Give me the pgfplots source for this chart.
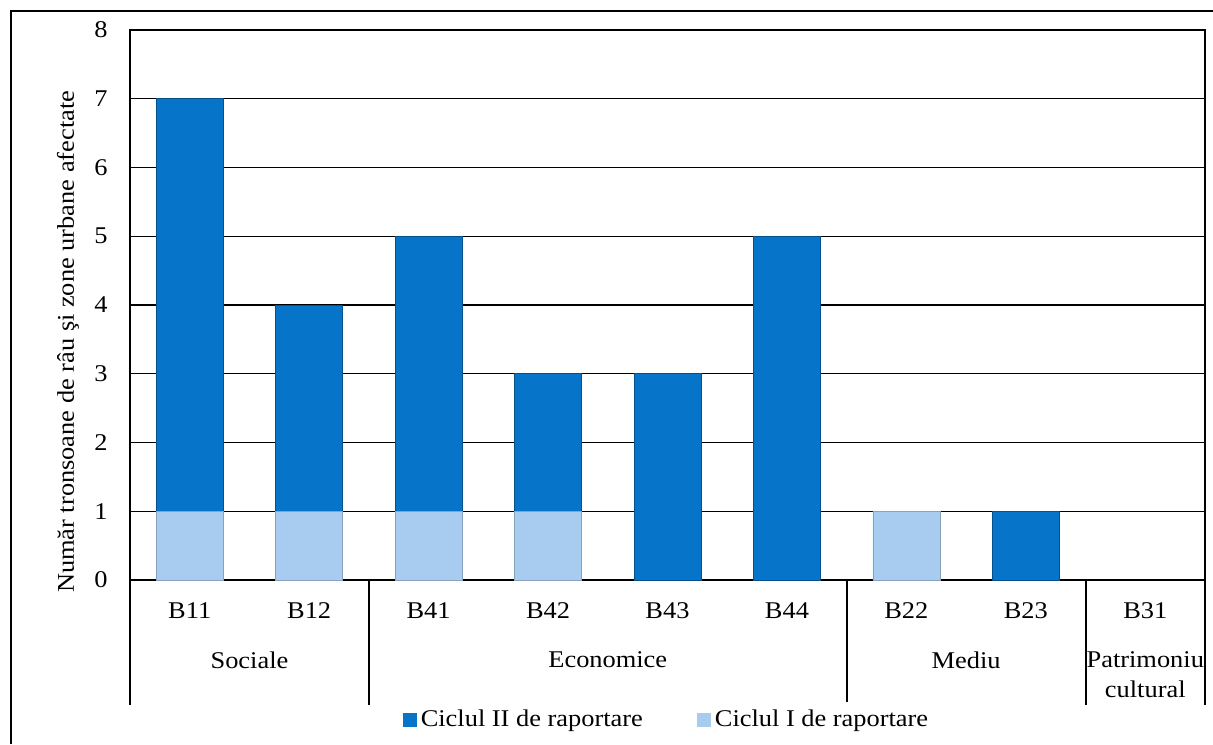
\documentclass[border=0pt]{standalone}
\usepackage{fontspec}
\setmainfont{Liberation Serif}[FakeStretch=1.1]
\usepackage{pgfplots}
\pgfplotsset{compat=1.18}

\definecolor{cycII}{HTML}{0674C8}
\definecolor{cycI}{HTML}{A7CCF0}

\begin{document}
\fontsize{12}{14}\selectfont
\begin{tikzpicture}
% page frame (1 px of the reference = 0.5pt)
\path[use as bounding box] (-65pt,-82pt) rectangle (541.5pt,290pt);
\draw[line width=1pt] (-59.5pt,-82pt) -- (-59.5pt,284.5pt) -- (541.5pt,284.5pt);

\begin{axis}[
    scale only axis,
    width=537.5pt,
    height=275pt,
    ybar stacked,
    bar width=33.5pt,
    xmin=-0.5, xmax=8.5,
    ymin=0, ymax=8,
    xtick={0,...,8},
    xticklabels={B11,B12,B41,B42,B43,B44,B22,B23,B31},
    ytick={0,...,8},
    ymajorgrids,
    grid style={black, line width=0.6pt},
    axis line style={black, line width=0.8pt},
    major tick length=0pt,
    xticklabel style={yshift=-7pt},
    yticklabel style={xshift=-7pt},
    /pgf/number format/assume math mode=true,
    ylabel={Număr tronsoane de râu şi zone urbane afectate},
    ylabel style={at={(rel axis cs:-0.0577,0.433)}, anchor=center},
    clip=false,
    reverse legend,
    legend columns=2,
    legend style={
        at={(0.5,-0.2545)},
        anchor=center,
        draw=none,
        font=\fontsize{12}{14}\selectfont,
        /tikz/every even column/.style={column sep=25pt},
    },
    legend image code/.code={\draw[#1, draw=none] (0pt,-3.5pt) rectangle (7pt,3.5pt);},
]
    \addplot[fill=cycI, draw=cycI!80!black, line width=0.3pt]
    coordinates{(0,1)(1,1)(2,1)(3,1)(4,0)(5,0)(6,1)(7,0)(8,0)};
    \addlegendentry{Ciclul I de raportare}

    \addplot[fill=cycII, draw=cycII!70!black, line width=0.3pt]
    coordinates{(0,6)(1,3)(2,4)(3,2)(4,3)(5,5)(6,0)(7,1)(8,0)};
    \addlegendentry{Ciclul II de raportare}

    % group separators below the axis
    \pgfplotsinvokeforeach{-0.5,1.5,5.5,7.5,8.5}{
        \draw[line width=1pt] (axis cs:#1,0) -- ++(0pt,-62.5pt);
    }

    \node at ([yshift=-40pt]axis cs:0.5,0) {Sociale};
    \node at ([yshift=-40pt]axis cs:3.5,0) {Economice};
    \node at ([yshift=-40pt]axis cs:6.5,0) {Mediu};
    \node[align=center, font=\fontsize{12}{15}\selectfont, inner sep=0pt]
        at ([yshift=-47.5pt]axis cs:8,0) {Patrimoniu\\cultural};
\end{axis}
\end{tikzpicture}
\end{document}
